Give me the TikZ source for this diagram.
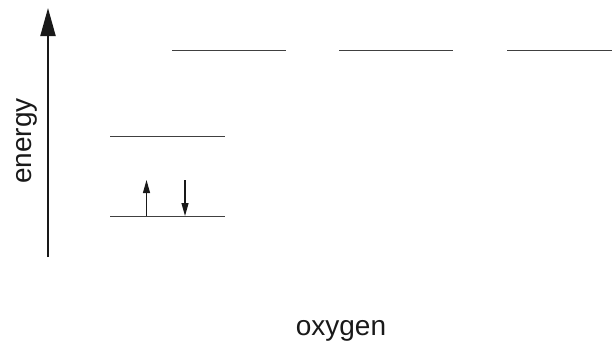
\documentclass[tikz,border=0pt]{standalone}
\usepackage{fontspec}
\setmainfont{Liberation Sans}
\usetikzlibrary{arrows.meta}
\tikzset{
  level/.style={line width=1.4pt, draw=black!75},
  axis/.style={line width=2pt, draw=black!90, -{Triangle[length=28pt,width=15pt]}},
  spin/.style={line width=1.2pt, draw=black!90, -{Triangle[length=13pt,width=7pt]}},
  lbl/.style={font=\fontsize{28}{30}\selectfont, text=black!90, inner sep=0pt}
}
\begin{document}
\begin{tikzpicture}[x=1pt,y=-1pt]
\useasboundingbox (0,0) rectangle (612,343);
% energy axis
\coordinate (axb) at (48,257);
\coordinate (axt) at (48,8);
\draw[axis] (axb) -- (axt);
\node[lbl, rotate=90, anchor=base] (energy) at (31,141) {energy};
% lower levels
\coordinate (l1a) at (110,216.5);
\coordinate (l1b) at (225,216.5);
\coordinate (l2a) at (110,136.5);
\coordinate (l2b) at (225,136.5);
\draw[level] (l1a) -- (l1b);
\draw[level] (l2a) -- (l2b);
% upper levels
\coordinate (u1a) at (172,50.5);
\coordinate (u1b) at (286,50.5);
\coordinate (u2a) at (339,50.5);
\coordinate (u2b) at (453,50.5);
\coordinate (u3a) at (507,50.5);
\coordinate (u3b) at (612,50.5);
\draw[level] (u1a) -- (u1b);
\draw[level] (u2a) -- (u2b);
\draw[level] (u3a) -- (u3b);
% spins
\coordinate (s1a) at (146.5,216);
\coordinate (s1b) at (146.5,180);
\coordinate (s2a) at (185,180);
\coordinate (s2b) at (185,216);
\draw[spin] (s1a) -- (s1b);
\draw[spin] (s2a) -- (s2b);
\node[lbl, anchor=base] (oxygen) at (341,335) {oxygen};
\end{tikzpicture}
\end{document}
